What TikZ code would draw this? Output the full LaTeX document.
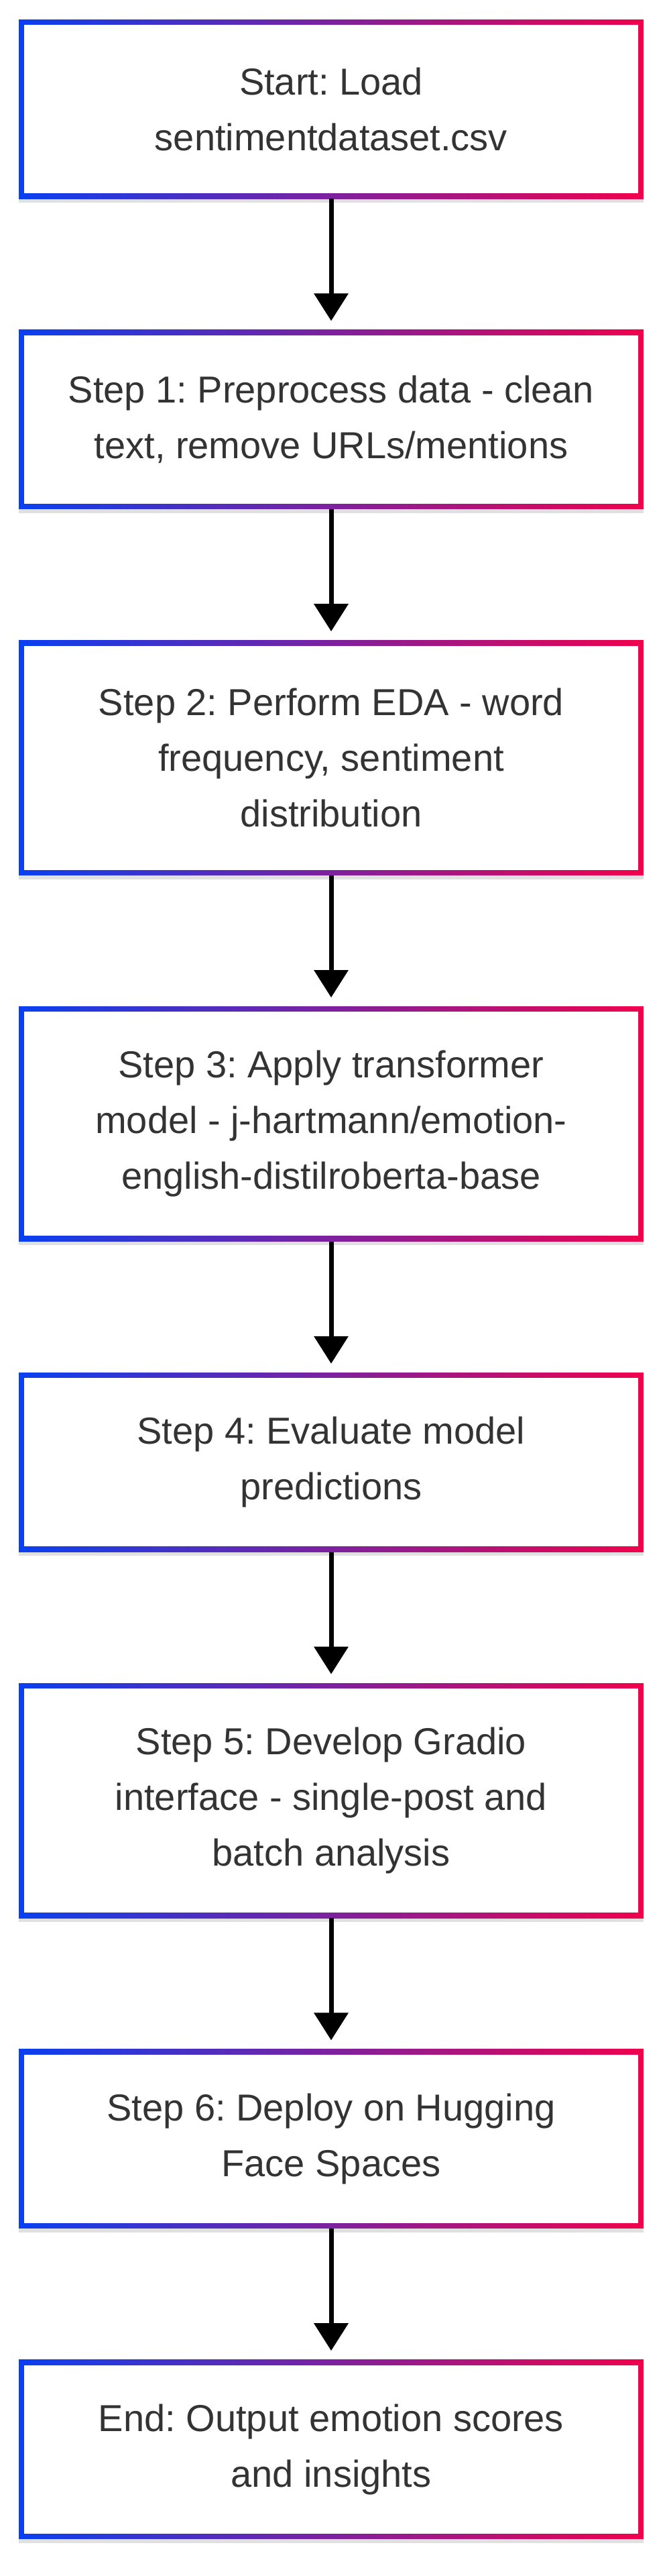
\documentclass[tikz,border=0pt]{standalone}
\usepackage{fontspec}
\setmainfont{Liberation Sans}
\usepackage{xcolor}
\usepackage{tikz}
\usetikzlibrary{arrows.meta,positioning,shadows}
\definecolor{FlowBlue}{HTML}{0A40F0}
\definecolor{FlowRed}{HTML}{F0024C}
\definecolor{FlowInk}{HTML}{333333}
\frenchspacing

\tikzset{
  flowbox/.style={shading=axis,left color=FlowBlue,right color=FlowRed,
        minimum width=466pt,minimum height=133.5pt,inner sep=0pt,
        align=center,text=FlowInk,
        font=\fontsize{28pt}{41.5pt}\selectfont,
        drop shadow={shadow xshift=0pt,shadow yshift=-3pt,opacity=0.12,fill=black},
        path picture={\fill[white] ([shift={(4pt,4pt)}]path picture bounding box.south west)
          rectangle ([shift={(-4pt,-4pt)}]path picture bounding box.north east);}},
  tallbox/.style={flowbox,minimum height=175pt},
  flowarrow/.style={->,black,line width=3.5pt,shorten >=6.5pt}
}

\begin{document}
\begin{tikzpicture}[node distance=97.5pt,>={Triangle[length=20.5pt,width=25pt]}]
  \useasboundingbox (0,0) rectangle (497.5pt,-1920pt);
  \node[flowbox] (load) at (247pt,-81.25pt)
        {Start: Load\\sentimentdataset.csv};
  \node[flowbox,below=of load] (preprocess)
        {Step 1: Preprocess data - clean\\text, remove URLs/mentions};
  \node[tallbox,below=of preprocess] (eda)
        {Step 2: Perform EDA - word\\frequency, sentiment\\distribution};
  \node[tallbox,below=of eda] (transformer)
        {Step 3: Apply transformer\\model - j-hartmann/emotion-\\english-distilroberta-base};
  \node[flowbox,below=of transformer] (evaluate)
        {Step 4: Evaluate model\\predictions};
  \node[tallbox,below=of evaluate] (gradio)
        {Step 5: Develop Gradio\\interface - single-post and\\batch analysis};
  \node[flowbox,below=of gradio] (deploy)
        {Step 6: Deploy on Hugging\\Face Spaces};
  \node[flowbox,below=of deploy] (output)
        {End: Output emotion scores\\and insights};
  \draw[flowarrow] (load) -- (preprocess);
  \draw[flowarrow] (preprocess) -- (eda);
  \draw[flowarrow] (eda) -- (transformer);
  \draw[flowarrow] (transformer) -- (evaluate);
  \draw[flowarrow] (evaluate) -- (gradio);
  \draw[flowarrow] (gradio) -- (deploy);
  \draw[flowarrow] (deploy) -- (output);
\end{tikzpicture}
\end{document}
